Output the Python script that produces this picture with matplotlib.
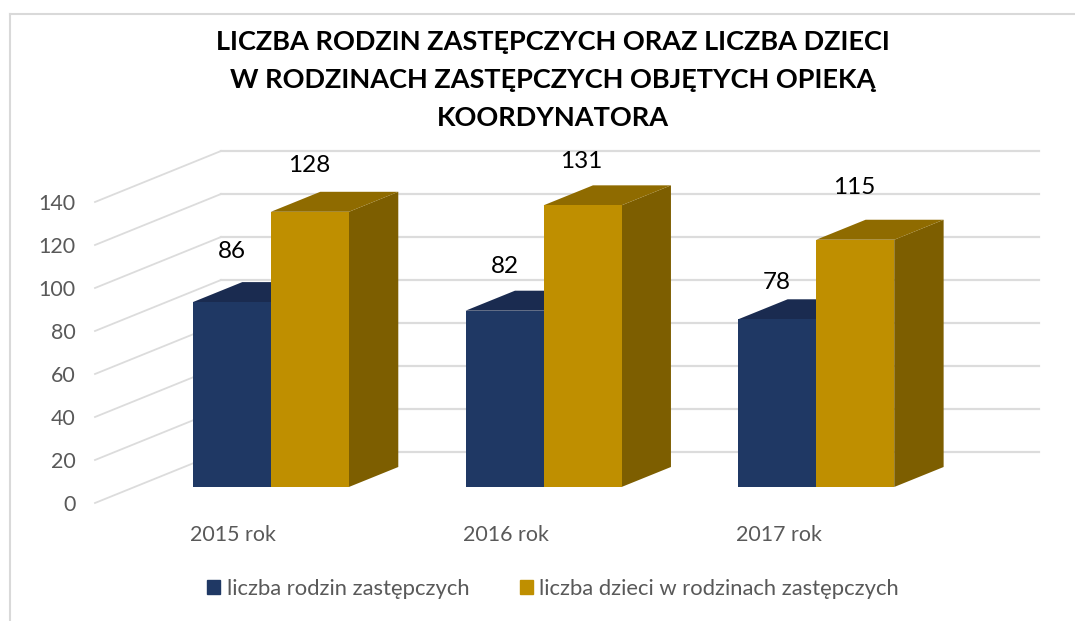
import matplotlib
matplotlib.use("Agg")
import matplotlib.pyplot as plt
from matplotlib.patches import Patch

plt.rcParams["font.family"] = ["Lato", "DejaVu Sans"]

years = ["2015 rok", "2016 rok", "2017 rok"]
families = [86, 82, 78]
children = [128, 131, 115]
y_ticks = [0, 20, 40, 60, 80, 100, 120, 140]

title = "LICZBA RODZIN ZASTĘPCZYCH ORAZ LICZBA DZIECI\nW RODZINACH ZASTĘPCZYCH OBJĘTYCH OPIEKĄ\nKOORDYNATORA"
name_families = "liczba rodzin zastępczych"
name_children = "liczba dzieci w rodzinach zastępczych"

# manual label offsets above the bar front (pixels)
lift_families = [51, 44, 37]
lift_children = [46, 44, 52]

W, H = 1075, 621
fig = plt.figure(figsize=(W / 100, H / 100), dpi=100)
fig.patch.set_facecolor("white")

# front plane of the fake 3D box, in pixels
ax = fig.add_axes([95 / W, 1 - 503 / H, 818 / W, 301 / H])
ax.set_xlim(0, 3)
ax.set_ylim(0, 140)
ax.patch.set_visible(False)
for s in ax.spines.values():
    s.set_visible(False)

# depth of the floor, in data units
depth_x = 126 / (818 / 3)
depth_y = 51 / (301 / 140)
t0, t1 = 0.314, 0.706
bar_w = 78 / (818 / 3)

grid_col = "#dcdcdc"
for v in y_ticks:
    ax.plot([0, depth_x], [v, v + depth_y], color=grid_col, lw=1.3, clip_on=False, zorder=1)
    ax.plot([depth_x, 3 + depth_x], [v + depth_y, v + depth_y], color=grid_col, lw=1.6, clip_on=False, zorder=1)


def draw_bar(x0, val, front, top, side, z):
    xa = x0 + t0 * depth_x
    xb = xa + bar_w
    y0 = t0 * depth_y
    dx = (t1 - t0) * depth_x
    dy = (t1 - t0) * depth_y
    ax.fill([xb, xb + dx, xb + dx, xb], [y0, y0 + dy, y0 + dy + val, y0 + val], color=side, lw=0, clip_on=False, zorder=z)
    ax.fill([xa, xb, xb + dx, xa + dx], [y0 + val, y0 + val, y0 + val + dy, y0 + val + dy], color=top, lw=0, clip_on=False, zorder=z)
    ax.bar(xa, val, width=bar_w, bottom=y0, align="edge", color=front, lw=0, clip_on=False, zorder=z + 0.1, antialiased=False)
    return xa + bar_w / 2, y0 + val


for i in range(len(years)):
    start = i + 0.5 - bar_w
    x, y = draw_bar(start, families[i], "#1f3864", "#1a2b50", "#14213d", 2)
    ax.annotate(str(families[i]), (x, y), xytext=(0, lift_families[i]), textcoords="offset pixels",
                ha="center", va="center", fontsize=17.5, color="black", zorder=5)
    x, y = draw_bar(start + bar_w, children[i], "#bf8f00", "#8f6b00", "#7d5e00", 3)
    ax.annotate(str(children[i]), (x, y), xytext=(-1, lift_children[i]), textcoords="offset pixels",
                ha="center", va="center", fontsize=17.5, color="black", zorder=5)

ax.set_yticks(y_ticks)
ax.set_xticks([i + 0.507 for i in range(len(years))])
ax.set_xticklabels(years)
ax.tick_params(axis="y", length=0, labelcolor="#595959", labelsize=15.4, pad=14)
ax.tick_params(axis="x", length=0, labelcolor="#595959", labelsize=15.4, pad=15.5)

fig.text(553 / W, 1 - 80 / H, title, ha="center", va="center", fontsize=19.5, fontweight="bold",
         color="black", linespacing=1.7)

fig.legend(handles=[Patch(color="#1f3864", label=name_families), Patch(color="#bf8f00", label=name_children)],
           loc="center", bbox_to_anchor=(553 / W, 1 - 589 / H), ncol=2, frameon=False, fontsize=15.8,
           labelcolor="#595959", handlelength=0.6, handleheight=0.6, handletextpad=0.3, columnspacing=2.3)

# outer chart frame, open at the right and bottom
fig.add_artist(plt.Line2D([9.5 / W, 9.5 / W], [0, 1 - 14 / H], color="#d9d9d9", lw=1.5))
fig.add_artist(plt.Line2D([9.5 / W, 1], [1 - 14 / H, 1 - 14 / H], color="#d9d9d9", lw=1.5))

fig.savefig("out.png", dpi=100)
